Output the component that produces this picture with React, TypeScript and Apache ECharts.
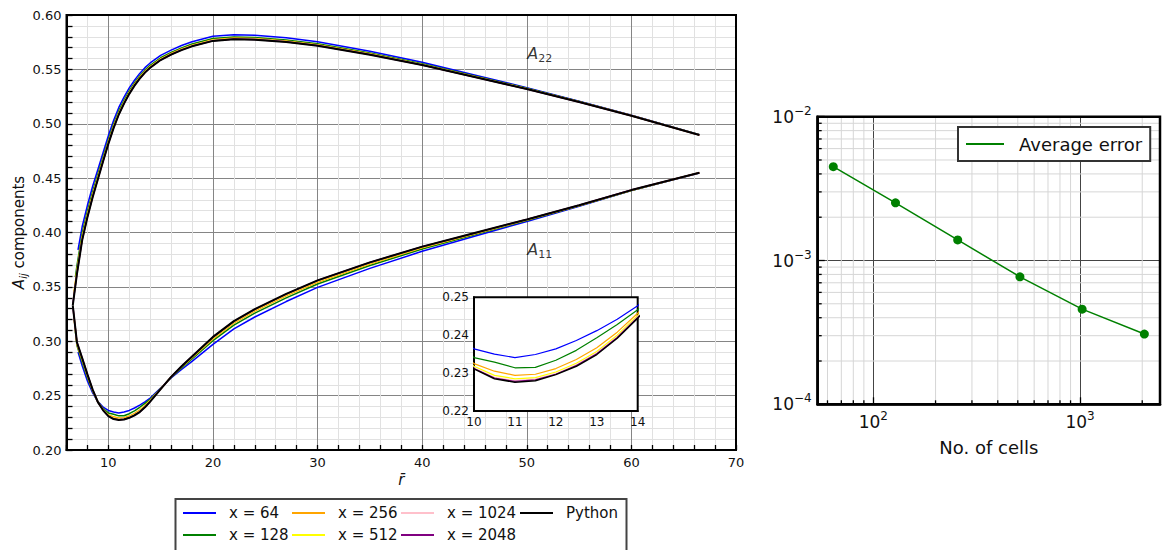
import React, { useEffect, useRef } from "react";
import * as echarts from "echarts";

const FONT = "DejaVu Sans";
const TXT = "#111";

// ---------- main plot data (A_ij components vs r̄) ----------
const seriesNames = ["x = 64", "x = 128", "x = 256", "x = 512", "x = 1024", "x = 2048", "Python"];
const seriesColors = ["#0000ff", "#008000", "#ffa500", "#ffff00", "#ffc0cb", "#800080", "#000000"];

const rHeads = [[7.1], [6.85, 7.0], [6.73, 7.0], [6.68, 7.0], [6.64, 7.0], [6.62, 7.0], [6.6, 7.0]];
const rCommon = [7.5, 8, 8.5, 9, 9.5, 10, 10.5, 11, 11.5, 12, 12.5, 13, 13.5, 14, 15, 16, 17, 18, 20, 22, 24, 27, 30, 35, 40, 45, 50, 55, 60, 66.5];

const a22_64 = [0.384, 0.4055, 0.425, 0.4425, 0.458, 0.4735, 0.489, 0.503, 0.515, 0.5245, 0.533, 0.540, 0.5463, 0.5516, 0.5559, 0.5628, 0.5677, 0.5719, 0.5754, 0.5805, 0.5819, 0.5814, 0.5791, 0.5755, 0.5666, 0.5565, 0.5448, 0.5332, 0.5208, 0.5079, 0.4899];
const a22_128 = [0.359, 0.3695, 0.3993, 0.4195, 0.4375, 0.4535, 0.4695, 0.4853, 0.4995, 0.5118, 0.5215, 0.5303, 0.5375, 0.5439, 0.5493, 0.5537, 0.5607, 0.5656, 0.5698, 0.5733, 0.5783, 0.5798, 0.5793, 0.5771, 0.5736, 0.5650, 0.5552, 0.5439, 0.5326, 0.5204, 0.5076, 0.4898];
const a22_256 = [0.346, 0.3657, 0.3961, 0.4168, 0.4350, 0.4513, 0.4675, 0.4834, 0.4978, 0.5101, 0.5200, 0.5289, 0.5363, 0.5427, 0.5482, 0.5526, 0.5597, 0.5646, 0.5688, 0.5723, 0.5773, 0.5788, 0.5783, 0.5762, 0.5727, 0.5643, 0.5546, 0.5435, 0.5323, 0.5202, 0.5075, 0.4897];
const a22_512 = [0.341, 0.364, 0.3946, 0.4154, 0.4338, 0.4501, 0.4665, 0.4824, 0.4969, 0.5093, 0.5193, 0.5282, 0.5356, 0.5421, 0.5476, 0.5521, 0.5591, 0.5640, 0.5682, 0.5717, 0.5767, 0.5782, 0.5778, 0.5757, 0.5723, 0.5639, 0.5543, 0.5432, 0.5321, 0.5201, 0.5074, 0.4897];
const a22_1024 = [0.337, 0.363, 0.3938, 0.4147, 0.4331, 0.4496, 0.4660, 0.4820, 0.4964, 0.5089, 0.5189, 0.5278, 0.5353, 0.5418, 0.5473, 0.5518, 0.5589, 0.5638, 0.5680, 0.5715, 0.5765, 0.5780, 0.5776, 0.5754, 0.5720, 0.5637, 0.5542, 0.5431, 0.5320, 0.5200, 0.5074, 0.4897];
const a22_2048 = [0.335, 0.3625, 0.3935, 0.4144, 0.4328, 0.4493, 0.4658, 0.4818, 0.4962, 0.5087, 0.5187, 0.5277, 0.5352, 0.5417, 0.5472, 0.5517, 0.5588, 0.5637, 0.5679, 0.5714, 0.5764, 0.5779, 0.5775, 0.5753, 0.5719, 0.5636, 0.5541, 0.5430, 0.5320, 0.5200, 0.5074, 0.4897];
const a22_py = [0.333, 0.362, 0.393, 0.414, 0.4325, 0.449, 0.4655, 0.4815, 0.496, 0.5085, 0.5185, 0.5275, 0.535, 0.5415, 0.547, 0.5515, 0.5586, 0.5635, 0.5677, 0.5712, 0.5762, 0.5777, 0.5773, 0.5752, 0.5718, 0.5635, 0.554, 0.543, 0.532, 0.520, 0.5074, 0.4897];

const a11_64 = [0.290, 0.2775, 0.2635, 0.2525, 0.2445, 0.2395, 0.2364, 0.2350, 0.2341, 0.2349, 0.2364, 0.2386, 0.2412, 0.2442, 0.2478, 0.2570, 0.2662, 0.2740, 0.2815, 0.2972, 0.3113, 0.3223, 0.3365, 0.3495, 0.3670, 0.3827, 0.3965, 0.4102, 0.4240, 0.4385, 0.4548];
const a11_128 = [0.309, 0.296, 0.2810, 0.2665, 0.2540, 0.2443, 0.2380, 0.2341, 0.2329, 0.2314, 0.2315, 0.2334, 0.2360, 0.2393, 0.2428, 0.2467, 0.2565, 0.2667, 0.2755, 0.2837, 0.3005, 0.3148, 0.3258, 0.3399, 0.3526, 0.3696, 0.3848, 0.3980, 0.4111, 0.4245, 0.4387, 0.4549];
const a11_256 = [0.3205, 0.2973, 0.2827, 0.2680, 0.2547, 0.2442, 0.2373, 0.2325, 0.2305, 0.2294, 0.2297, 0.2312, 0.2336, 0.2367, 0.2408, 0.2458, 0.2563, 0.2670, 0.2763, 0.2849, 0.3022, 0.3166, 0.3277, 0.3417, 0.3543, 0.3710, 0.3859, 0.3987, 0.4115, 0.4247, 0.4388, 0.4550];
const a11_512 = [0.3255, 0.298, 0.2836, 0.2688, 0.2551, 0.2441, 0.2369, 0.2318, 0.2294, 0.2285, 0.2288, 0.2303, 0.2326, 0.2357, 0.2400, 0.2452, 0.2561, 0.2671, 0.2766, 0.2854, 0.3031, 0.3176, 0.3286, 0.3426, 0.3552, 0.3718, 0.3865, 0.3991, 0.4118, 0.4249, 0.4389, 0.4550];
const a11_1024 = [0.329, 0.2985, 0.2841, 0.2692, 0.2553, 0.2440, 0.2367, 0.2314, 0.2289, 0.2280, 0.2284, 0.2299, 0.2322, 0.2353, 0.2396, 0.2449, 0.2560, 0.2672, 0.2768, 0.2857, 0.3036, 0.3181, 0.3291, 0.3431, 0.3556, 0.3722, 0.3868, 0.3993, 0.4119, 0.4250, 0.4390, 0.4550];
const a11_2048 = [0.331, 0.2988, 0.2843, 0.2694, 0.2554, 0.2440, 0.2366, 0.2312, 0.2287, 0.2278, 0.2282, 0.2297, 0.2320, 0.2351, 0.2394, 0.2447, 0.2560, 0.2672, 0.2769, 0.2859, 0.3038, 0.3183, 0.3293, 0.3433, 0.3558, 0.3724, 0.3869, 0.3994, 0.4120, 0.4250, 0.4390, 0.4550];
const a11_py = [0.333, 0.299, 0.2845, 0.2695, 0.2555, 0.2440, 0.2365, 0.2311, 0.2285, 0.2276, 0.2280, 0.2296, 0.2318, 0.2349, 0.2392, 0.2445, 0.2560, 0.2672, 0.2770, 0.2860, 0.3040, 0.3185, 0.3295, 0.3435, 0.3560, 0.3725, 0.3870, 0.3995, 0.4120, 0.4250, 0.4390, 0.4550];

const a22All = [a22_64, a22_128, a22_256, a22_512, a22_1024, a22_2048, a22_py];
const a11All = [a11_64, a11_128, a11_256, a11_512, a11_1024, a11_2048, a11_py];

// ---------- right plot data (average error vs number of cells) ----------
const cells = [64, 128, 256, 512, 1024, 2048];
const avgError = [4.49e-3, 2.52e-3, 1.39e-3, 7.7e-4, 4.59e-4, 3.08e-4];
const logMinorX = [60, 70, 80, 90, 200, 300, 400, 500, 600, 700, 800, 900, 2000];
const logMinorY = [2e-4, 3e-4, 4e-4, 5e-4, 6e-4, 7e-4, 8e-4, 9e-4, 2e-3, 3e-3, 4e-3, 5e-3, 6e-3, 7e-3, 8e-3, 9e-3];

const legendColumns = [
  ["x = 64", "x = 128"],
  ["x = 256", "x = 512"],
  ["x = 1024", "x = 2048"],
  ["Python"],
];

function logLabel(v: number) {
  const e = Math.round(Math.log10(v));
  const s = e < 0 ? "\u2212" + -e : String(e);
  return "{b|10}{s|" + s + "}";
}

const logRich = {
  b: { fontSize: 17, lineHeight: 24, fontFamily: FONT, color: TXT },
  s: { fontSize: 12, lineHeight: 12, verticalAlign: "top", fontFamily: FONT, color: TXT },
};

const hiddenSymbol = { color: "rgba(0,0,0,0)", borderColor: "rgba(0,0,0,0)", borderWidth: 0, opacity: 0 };

export default function App() {
  const ref = useRef<HTMLDivElement>(null);

  useEffect(() => {
    document.body.style.margin = "0";
    if (!ref.current) return;
    const chart = echarts.init(ref.current, undefined, { renderer: "svg" });

    const series: any[] = [];
    const insetSeries: any[] = [];
    for (let i = 0; i < seriesNames.length; i++) {
      const r = [...rHeads[i], ...rCommon];
      const p22 = r.map((x, k) => [x, a22All[i][k]]);
      const p11 = r.map((x, k) => [x, a11All[i][k]]);
      const w = i === 6 ? 2 : 1.5;
      const base = {
        type: "line",
        name: seriesNames[i],
        showSymbol: false,
        symbol: "none",
        silent: true,
        emphasis: { disabled: true },
        color: seriesColors[i],
      };
      series.push({ ...base, xAxisIndex: 0, yAxisIndex: 0, z: 2, data: p22, lineStyle: { color: seriesColors[i], width: w } });
      series.push({ ...base, xAxisIndex: 0, yAxisIndex: 0, z: 2, data: p11, lineStyle: { color: seriesColors[i], width: w } });
      insetSeries.push({ ...base, xAxisIndex: 1, yAxisIndex: 1, z: 12, data: p11, lineStyle: { color: seriesColors[i], width: i === 6 ? 1.5 : 1.2 } });
    }

    const annotations = [
      { value: [50, 0.5646], sub: "22" },
      { value: [50, 0.3845], sub: "11" },
    ];
    const annotSeries = {
      type: "scatter",
      xAxisIndex: 0,
      yAxisIndex: 0,
      symbolSize: 1,
      silent: true,
      z: 5,
      itemStyle: { color: "rgba(0,0,0,0)" },
      data: annotations.map((a) => ({ value: a.value, sub: a.sub })),
      label: {
        show: true,
        position: "right",
        distance: 0,
        formatter: (p: any) => "{a|A}{s|" + p.data.sub + "}",
        rich: {
          a: { fontSize: 16, fontStyle: "italic", fontFamily: FONT, color: "#000", lineHeight: 22 },
          s: { fontSize: 11, fontFamily: FONT, color: "#000", lineHeight: 11, verticalAlign: "bottom" },
        },
      },
    };

    const minorXSeries = {
      type: "custom",
      xAxisIndex: 2,
      yAxisIndex: 2,
      z: 1,
      silent: true,
      data: logMinorX.map((v) => [v, 1e-3]),
      renderItem: (params: any, api: any) => {
        const p = api.coord([api.value(0), api.value(1)]);
        const cs = params.coordSys;
        return {
          type: "group",
          children: [
            { type: "line", shape: { x1: p[0], y1: cs.y, x2: p[0], y2: cs.y + cs.height }, style: { stroke: "#d6d6d6", lineWidth: 1 } },
            { type: "line", shape: { x1: p[0], y1: cs.y + cs.height, x2: p[0], y2: cs.y + cs.height - 4 }, style: { stroke: "#000", lineWidth: 1.3 } },
          ],
        };
      },
    };
    const minorYSeries = {
      type: "custom",
      xAxisIndex: 2,
      yAxisIndex: 2,
      z: 1,
      silent: true,
      data: logMinorY.map((v) => [100, v]),
      renderItem: (params: any, api: any) => {
        const p = api.coord([api.value(0), api.value(1)]);
        const cs = params.coordSys;
        return {
          type: "group",
          children: [
            { type: "line", shape: { x1: cs.x, y1: p[1], x2: cs.x + cs.width, y2: p[1] }, style: { stroke: "#d6d6d6", lineWidth: 1 } },
            { type: "line", shape: { x1: cs.x, y1: p[1], x2: cs.x + 4, y2: p[1] }, style: { stroke: "#000", lineWidth: 1.3 } },
          ],
        };
      },
    };

    const errorSeries = {
      type: "line",
      name: "Average error",
      xAxisIndex: 2,
      yAxisIndex: 2,
      z: 3,
      silent: true,
      emphasis: { disabled: true },
      data: cells.map((c, k) => [c, avgError[k]]),
      symbol: "circle",
      symbolSize: 9,
      showSymbol: true,
      color: "#008000",
      itemStyle: { color: "#008000" },
      lineStyle: { color: "#008000", width: 1.5 },
    };

    const legendCommon = {
      orient: "vertical",
      padding: 0,
      itemWidth: 33,
      itemHeight: 14,
      itemGap: 6,
      selectedMode: false,
      itemStyle: hiddenSymbol,
      lineStyle: { width: 2 },
      textStyle: { fontSize: 15, fontFamily: FONT, color: TXT, lineHeight: 16, padding: [0, 0, 0, 8] },
    };
    const legendLefts = [182, 291, 400, 519];
    const legends: any[] = legendColumns.map((col, i) => ({
      ...legendCommon,
      data: col,
      left: legendLefts[i],
      top: 505,
    }));
    legends.push({
      orient: "horizontal",
      data: ["Average error"],
      left: 958,
      top: 127,
      padding: [8, 8, 8, 7],
      itemWidth: 38,
      itemHeight: 14,
      selectedMode: false,
      backgroundColor: "#fff",
      borderColor: "#333",
      borderWidth: 2,
      z: 6,
      itemStyle: hiddenSymbol,
      lineStyle: { width: 2 },
      textStyle: { fontSize: 18, fontFamily: FONT, color: TXT, lineHeight: 18, padding: [0, 0, 0, 10] },
    });

    const option: any = {
      animation: false,
      backgroundColor: "#fff",
      grid: [
        { left: 66.5, top: 15, width: 669.5, height: 435, show: true, borderColor: "#000", borderWidth: 2, z: 3, backgroundColor: "rgba(0,0,0,0)", outerBoundsMode: "none", containLabel: false },
        { left: 474, top: 297.3, width: 163.7, height: 113.7, show: true, borderColor: "#000", borderWidth: 2, backgroundColor: "#fff", z: 10, outerBoundsMode: "none", containLabel: false },
        { left: 817.7, top: 116.7, width: 342.3, height: 287.6, show: true, borderColor: "#000", borderWidth: 2.5, z: 3, backgroundColor: "rgba(0,0,0,0)", outerBoundsMode: "none", containLabel: false },
      ],
      xAxis: [
        {
          type: "value",
          gridIndex: 0,
          min: 6,
          max: 70,
          name: "r\u0304",
          nameLocation: "middle",
          nameGap: 22,
          nameMoveOverlap: false,
          nameTextStyle: { fontSize: 15, fontStyle: "italic", fontFamily: FONT, color: TXT },
          axisLine: { show: true, lineStyle: { color: "#000", width: 2 } },
          axisTick: { show: true, inside: true, length: 5, lineStyle: { color: "#000", width: 1.3 } },
          minorTick: { show: true, splitNumber: 5, length: 5, lineStyle: { color: "#000", width: 1.3 } },
          axisLabel: { fontSize: 13, fontFamily: FONT, color: TXT, margin: 6, showMinLabel: false },
          splitLine: { show: true, lineStyle: { color: "#858585", width: 1 } },
          minorSplitLine: { show: true, lineStyle: { color: "#e1e1e1", width: 1 } },
        },
        {
          type: "value",
          gridIndex: 1,
          min: 10,
          max: 14,
          interval: 1,
          z: 11,
          axisLine: { show: true, lineStyle: { color: "#000", width: 2 } },
          axisTick: { show: false },
          axisLabel: { fontSize: 12, fontFamily: FONT, color: TXT, margin: 5 },
          splitLine: { show: false },
        },
        {
          type: "log",
          logBase: 10,
          gridIndex: 2,
          min: 53.8,
          max: 2438,
          name: "No. of cells",
          nameLocation: "middle",
          nameGap: 34,
          nameMoveOverlap: false,
          nameTextStyle: { fontSize: 18, fontFamily: FONT, color: TXT },
          axisLine: { show: true, lineStyle: { color: "#000", width: 2.5 } },
          axisTick: { show: true, inside: true, length: 7, lineStyle: { color: "#000", width: 1.3 } },
          axisLabel: { formatter: logLabel, rich: logRich, margin: 6, showMinLabel: false, showMaxLabel: false },
          splitLine: { show: true, lineStyle: { color: "#444", width: 1 } },
        },
      ],
      yAxis: [
        {
          type: "value",
          gridIndex: 0,
          min: 0.2,
          max: 0.6,
          interval: 0.05,
          name: "{i|A}{s|ij} components",
          nameLocation: "middle",
          nameGap: 38,
          nameMoveOverlap: false,
          nameRotate: 90,
          nameTextStyle: {
            fontSize: 15,
            fontFamily: FONT,
            color: TXT,
            lineHeight: 20,
            rich: {
              i: { fontSize: 15, fontStyle: "italic", fontFamily: FONT, color: TXT, lineHeight: 20 },
              s: { fontSize: 10, fontStyle: "italic", fontFamily: FONT, color: TXT, lineHeight: 10, verticalAlign: "bottom" },
            },
          },
          axisLine: { show: true, lineStyle: { color: "#000", width: 2 } },
          axisTick: { show: true, inside: true, length: 6, lineStyle: { color: "#000", width: 1.3 } },
          minorTick: { show: true, splitNumber: 5, length: 6, lineStyle: { color: "#000", width: 1.3 } },
          axisLabel: { fontSize: 13, fontFamily: FONT, color: TXT, margin: 5, formatter: (v: number) => v.toFixed(2) },
          splitLine: { show: true, lineStyle: { color: "#858585", width: 1 } },
          minorSplitLine: { show: true, lineStyle: { color: "#e1e1e1", width: 1 } },
        },
        {
          type: "value",
          gridIndex: 1,
          min: 0.22,
          max: 0.25,
          interval: 0.01,
          z: 11,
          axisLine: { show: true, lineStyle: { color: "#000", width: 2 } },
          axisTick: { show: false },
          axisLabel: { fontSize: 12, fontFamily: FONT, color: TXT, margin: 5, formatter: (v: number) => v.toFixed(2) },
          splitLine: { show: false },
        },
        {
          type: "log",
          logBase: 10,
          gridIndex: 2,
          min: 1e-4,
          max: 1e-2,
          axisLine: { show: true, lineStyle: { color: "#000", width: 2.5 } },
          axisTick: { show: true, inside: true, length: 7, lineStyle: { color: "#000", width: 1.3 } },
          axisLabel: { formatter: logLabel, rich: logRich, margin: 6 },
          splitLine: { show: true, lineStyle: { color: "#444", width: 1 } },
        },
      ],
      legend: legends,
      graphic: [
        {
          type: "rect",
          shape: { x: 175.5, y: 499, width: 451, height: 70 },
          style: { fill: "rgba(0,0,0,0)", stroke: "#444", lineWidth: 2 },
          z: 5,
          silent: true,
        },
      ],
      series: [...series, annotSeries, ...insetSeries, minorXSeries, minorYSeries, errorSeries],
    };

    chart.setOption(option);
    return () => chart.dispose();
  }, []);

  return <div ref={ref} style={{ width: 1162, height: 550 }} />;
}
